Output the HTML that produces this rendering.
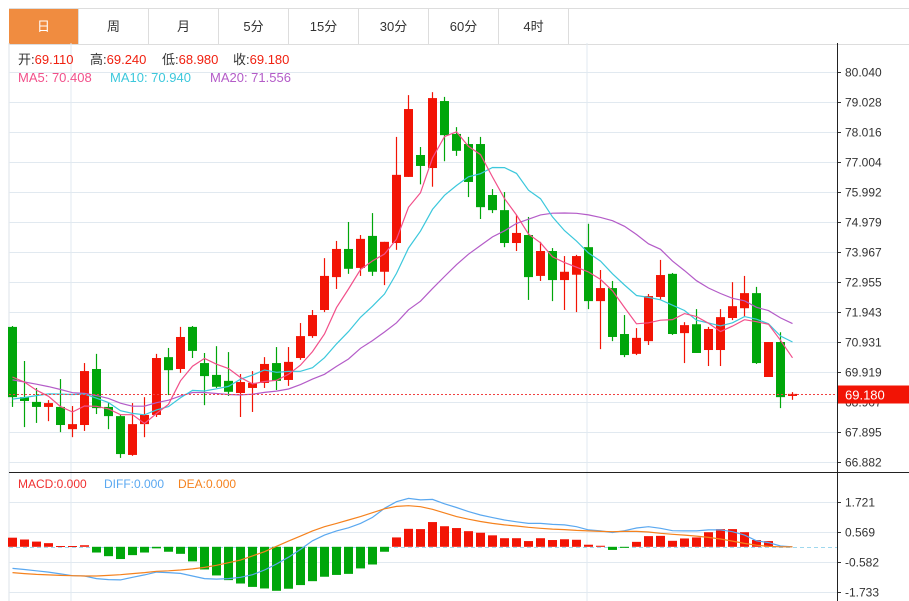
<!DOCTYPE html>
<html><head><meta charset="utf-8">
<style>
html,body{margin:0;padding:0;background:#fff;width:909px;height:601px;overflow:hidden;font-family:"Liberation Sans","Noto Sans CJK SC",sans-serif;}
.tabs{position:absolute;left:9px;top:8px;width:900px;height:35px;border-top:1px solid #ddd;border-bottom:1px solid #ddd;display:flex;}
.tab{width:69px;height:35px;border-right:1px solid #ddd;text-align:center;line-height:35px;font-size:13px;color:#333;}
.tab.on{background:#f08c40;color:#fff;}
svg{position:absolute;left:0;top:0;}
</style></head><body>
<div class="tabs">
<div class="tab on">日</div>
<div class="tab">周</div>
<div class="tab">月</div>
<div class="tab">5分</div>
<div class="tab">15分</div>
<div class="tab">30分</div>
<div class="tab">60分</div>
<div class="tab">4时</div>
</div>
<svg id="chart" width="909" height="601"></svg>
<script>
const opens=[71.44,69.07,68.91,68.74,68.74,67.99,68.13,70.02,68.74,68.43,67.12,68.16,68.47,70.42,70.02,71.44,70.22,69.82,69.62,69.21,69.38,69.55,70.22,69.65,70.39,71.13,72.01,73.12,74.07,73.43,74.51,73.30,74.27,76.50,77.24,76.80,79.06,77.95,77.61,77.61,75.89,75.38,74.27,74.54,73.16,74.00,73.02,73.20,74.13,72.31,72.75,71.20,70.53,70.96,72.45,73.23,71.23,71.53,70.66,70.66,71.74,72.07,72.58,69.75,70.93,69.11];
const closes=[69.07,68.94,68.74,68.87,68.13,68.16,69.95,68.70,68.43,67.15,68.16,68.47,70.39,69.98,71.10,70.63,69.78,69.42,69.25,69.58,69.55,70.19,69.62,70.26,71.13,71.84,73.16,74.07,73.40,74.41,73.30,74.31,76.57,78.79,76.87,79.16,77.91,77.38,76.33,75.48,75.38,74.27,74.61,73.12,74.00,73.02,73.30,73.83,72.31,72.75,71.10,70.49,71.07,72.48,73.19,71.20,71.50,70.56,71.37,71.77,72.14,72.58,70.22,70.93,69.07,69.18];
const highs=[71.47,70.29,69.38,68.97,69.68,68.77,70.22,70.53,68.87,68.47,68.87,69.07,70.53,70.73,71.44,71.47,70.56,70.79,70.59,69.85,69.95,70.42,70.76,70.76,71.57,72.01,73.76,74.34,74.98,74.54,75.28,74.31,77.85,79.26,77.51,79.36,79.20,78.18,77.85,77.85,76.09,75.99,75.21,75.15,74.31,74.10,73.83,73.87,74.92,73.36,72.99,71.84,71.40,72.55,73.70,73.26,71.60,72.04,71.44,72.04,72.95,73.16,72.79,70.93,71.26,69.24];
const lows=[68.74,68.06,68.20,68.26,67.89,67.72,67.93,68.50,67.99,67.02,67.09,67.72,68.40,69.14,69.89,70.39,68.80,69.38,69.11,68.40,68.57,69.38,69.31,69.45,70.33,71.07,71.94,72.72,73.23,73.16,73.16,72.85,74.04,76.50,76.25,76.17,77.03,77.21,75.82,75.08,75.28,74.13,74.00,72.35,72.99,72.31,72.01,71.94,72.04,70.69,70.96,70.42,70.49,70.83,72.35,71.17,70.22,70.56,70.12,70.12,71.67,71.77,70.19,69.75,68.70,68.98];
const prevCloses=[70.4,70.2,70.5,70.1,70.3,70.4,70.2,70.3,70.4,70.2,68.4,68.1,68.3,68.2,68.3,69.8,70.1,69.9,69.88];
const macdHist=[0.35,0.28,0.20,0.14,0.03,0.03,0.06,-0.22,-0.36,-0.47,-0.32,-0.22,-0.06,-0.19,-0.27,-0.56,-0.87,-1.10,-1.28,-1.41,-1.54,-1.60,-1.69,-1.61,-1.47,-1.32,-1.15,-1.08,-1.04,-0.83,-0.68,-0.19,0.36,0.69,0.68,0.95,0.79,0.72,0.60,0.54,0.44,0.33,0.33,0.22,0.33,0.26,0.29,0.27,0.08,0.04,-0.12,-0.04,0.19,0.41,0.42,0.23,0.32,0.36,0.56,0.68,0.68,0.56,0.26,0.22,0,0];
const diffVals=[-0.83,-0.87,-0.92,-0.97,-1.04,-1.11,-1.12,-1.22,-1.26,-1.27,-1.17,-1.08,-0.97,-0.99,-1.02,-1.12,-1.22,-1.24,-1.22,-1.17,-1.07,-0.89,-0.66,-0.40,-0.10,0.23,0.45,0.61,0.73,0.90,1.13,1.48,1.73,1.86,1.80,1.82,1.65,1.51,1.35,1.22,1.12,1.03,0.96,0.90,0.90,0.86,0.84,0.77,0.65,0.61,0.55,0.62,0.72,0.77,0.71,0.62,0.61,0.61,0.65,0.65,0.58,0.45,0.23,0.16,0.03,0];
const deaVals=[-0.99,-1.03,-1.06,-1.08,-1.10,-1.11,-1.12,-1.12,-1.10,-1.07,-1.03,-0.99,-0.94,-0.92,-0.89,-0.85,-0.79,-0.71,-0.61,-0.51,-0.35,-0.19,0.02,0.22,0.41,0.61,0.77,0.90,1.03,1.16,1.31,1.46,1.55,1.58,1.54,1.44,1.30,1.16,1.06,0.97,0.90,0.84,0.80,0.75,0.71,0.68,0.66,0.63,0.61,0.59,0.58,0.59,0.59,0.57,0.52,0.48,0.45,0.41,0.36,0.30,0.22,0.13,0.06,0.02,0,0];
const priceTicks=[80.040,79.028,78.016,77.004,75.992,74.979,73.967,72.955,71.943,70.931,69.919,68.907,67.895,66.882];
const macdTicks=[1.721,0.569,-0.582,-1.733];
const lastPrice=69.180;

const NS='http://www.w3.org/2000/svg';
const svg=document.getElementById('chart');
function mk(tag,attrs,parent){const e=document.createElementNS(NS,tag);for(const k in attrs)e.setAttribute(k,attrs[k]);(parent||svg).appendChild(e);return e;}
const AX=837;
const yP=p=>72+(80.040-p)*(390/(80.040-66.882));
const yM=v=>546.8-v*(30/1.152);
const xC=i=>12+12*i;
const RED='#f21405',GREEN='#00a60a';

mk('line',{x1:9,y1:43,x2:9,y2:601,stroke:'#dde3ea'});
[71,587].forEach(x=>mk('line',{x1:x,y1:43,x2:x,y2:601,stroke:'#e1e9f0'}));
priceTicks.forEach(t=>{
  const y=Math.round(yP(t))+0.5;
  const g=mk('line',{x1:9,y1:y,x2:AX,y2:y,stroke:'#e1e9f0'});
  
  
  mk('line',{x1:AX,y1:y,x2:AX+4,y2:y,stroke:'#333'});
  const tx=mk('text',{x:845,y:y+4,'font-size':12,fill:'#333'});
  tx.textContent=t.toFixed(3);
  
  
});
macdTicks.forEach(t=>{
  const y=Math.round(yM(t))+0.5;
  const g=mk('line',{x1:9,y1:y,x2:AX,y2:y,stroke:'#e1e9f0'});
  
  
  mk('line',{x1:AX,y1:y,x2:AX+4,y2:y,stroke:'#333'});
  const tx=mk('text',{x:845,y:y+4,'font-size':12,fill:'#333'});
  tx.textContent=(t<0?'-':'')+Math.abs(t).toFixed(3);
  
  
});
mk('line',{x1:9,y1:472.5,x2:909,y2:472.5,stroke:'#222'});
mk('line',{x1:AX+0.5,y1:43,x2:AX+0.5,y2:601,stroke:'#222'});
mk('line',{x1:9,y1:Math.round(yM(0))+0.5,x2:AX,y2:Math.round(yM(0))+0.5,stroke:'#9fd8ee','stroke-dasharray':'4,3'});

const gC=mk('g',{});


for(let i=0;i<closes.length;i++){
  const up=closes[i]>=opens[i];const col=up?RED:GREEN;const x=xC(i);
  const w=mk('line',{x1:x+0.5,y1:yP(highs[i]),x2:x+0.5,y2:yP(lows[i]),stroke:col,'stroke-width':1.2},gC);
  
  
  const t=yP(Math.max(opens[i],closes[i])),b=yP(Math.min(opens[i],closes[i]));
  const r=mk('rect',{x:x-4,y:t,width:9,height:Math.max(1.5,b-t),fill:col},gC);
  
  
}
const all=prevCloses.concat(closes);
function ma(n){const out=[];for(let i=0;i<closes.length;i++){const k=i+prevCloses.length;let s=0;for(let j=k-n+1;j<=k;j++)s+=all[j];out.push(s/n);}return out;}
function poly(vals,fy,col,name){
  const pts=vals.map((v,i)=>xC(i)+0.5+','+fy(v).toFixed(1)).join(' ');
  const p=mk('polyline',{points:pts,fill:'none',stroke:col,'stroke-width':1.2});
  
  
}
poly(ma(20),yP,'#b45cc8','ma20-line');
poly(ma(10),yP,'#3cc8dc','ma10-line');
poly(ma(5),yP,'#f2508a','ma5-line');

const ly=Math.round(yP(lastPrice))+0.5;
const ll=mk('line',{x1:9,y1:ly,x2:AX,y2:ly,stroke:'#f04040','stroke-dasharray':'2,2'});


const lb=mk('rect',{x:838,y:ly-9,width:71,height:18,fill:RED});


const lt=mk('text',{x:845,y:ly+5,'font-size':13,fill:'#fff'});
lt.textContent=lastPrice.toFixed(3);

const z=yM(0);
for(let i=0;i<macdHist.length;i++){
  const v=macdHist[i];if(v===0)continue;const y=yM(v);
  const r=mk('rect',{x:xC(i)-4,y:Math.min(y,z),width:9,height:Math.max(1,Math.abs(y-z)),fill:v>0?RED:GREEN});
  
  
}
poly(diffVals,yM,'#5aa8f0','diff-line');
poly(deaVals,yM,'#f5821e','dea-line');

function txt(x,y,s,col,size,name){const t=mk('text',{x:x,y:y,'font-size':size||13,fill:col});t.textContent=s;return t;}
const l1=[['开:','69.110',18],['高:','69.240',90],['低:','68.980',162],['收:','69.180',233]];
l1.forEach(a=>{const t=txt(a[2],64,'', '#333',13,'ohlc-legend');const s1=document.createElementNS(NS,'tspan');s1.textContent=a[0];s1.setAttribute('fill','#333');t.appendChild(s1);const s2=document.createElementNS(NS,'tspan');s2.textContent=a[1];s2.setAttribute('fill','#f02010');t.appendChild(s2);});
txt(18,82,'MA5: 70.408','#f2508a',13,'ma5-legend');
txt(110,82,'MA10: 70.940','#3cc8dc',13,'ma10-legend');
txt(210,82,'MA20: 71.556','#b45cc8',13,'ma20-legend');
txt(18,488,'MACD:0.000','#f03030',12,'macd-legend');
txt(104,488,'DIFF:0.000','#5aa8f0',12,'diff-legend');
txt(178,488,'DEA:0.000','#f5821e',12,'dea-legend');
</script>
</body></html>
